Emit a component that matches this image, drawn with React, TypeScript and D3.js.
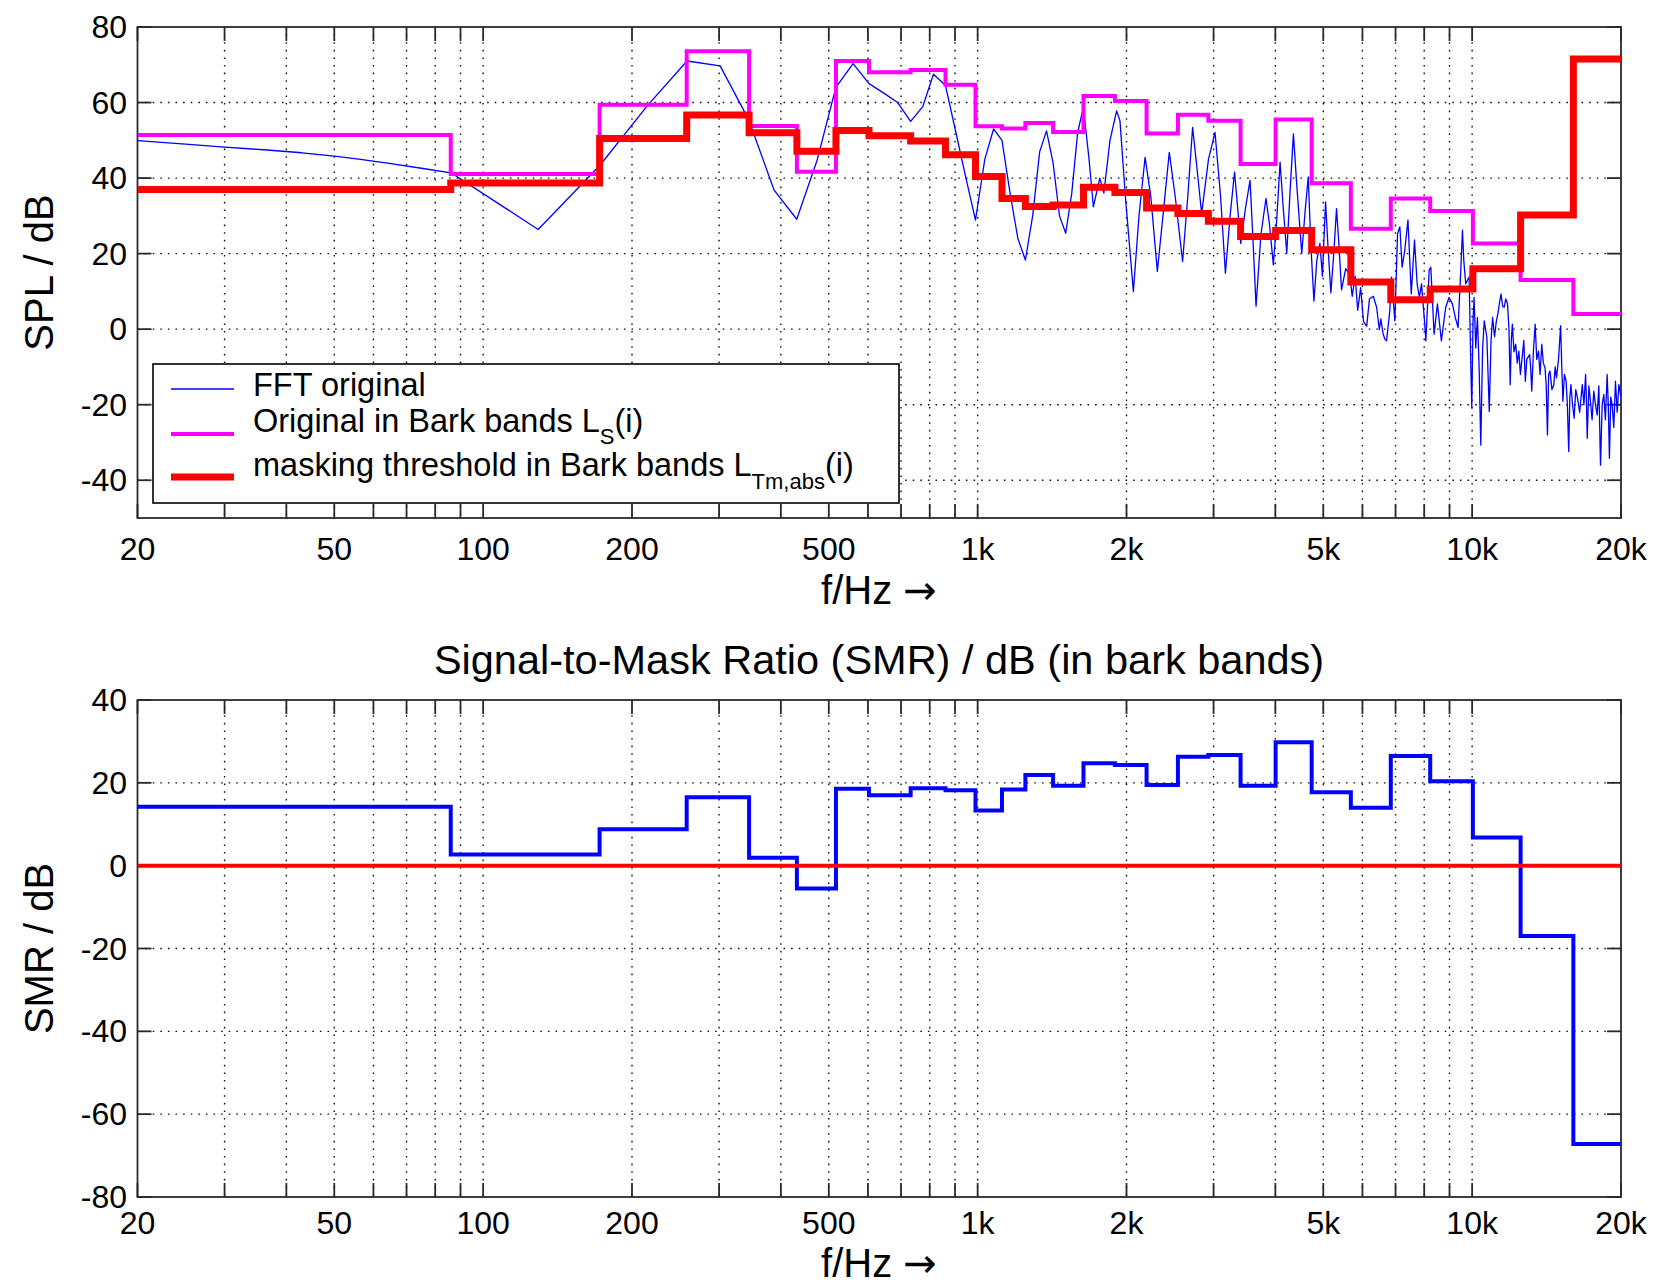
import React from "react";
import * as d3 from "d3";

// ---------------- data ----------------
const BAND_EDGES = [20, 86, 172, 258, 345, 431, 517, 603, 732, 861, 990, 1120, 1249, 1421, 1637, 1895, 2196, 2541, 2928, 3402, 4005, 4737, 5685, 6847, 8226, 10034, 12532, 16021, 20000];

// Original in Bark bands L_S(i)
const LS_DB = [51.4, 41.1, 59.4, 73.6, 53.8, 41.7, 71.0, 68.0, 68.6, 64.7, 53.7, 53.1, 54.6, 52.2, 61.7, 60.4, 51.8, 56.8, 55.2, 43.7, 55.5, 38.6, 26.6, 34.6, 31.3, 22.7, 13.0, 4.0];

// masking threshold in Bark bands L_Tm,abs(i)
const LT_DB = [37.0, 38.7, 50.5, 56.7, 52.0, 47.1, 52.6, 51.2, 49.8, 46.2, 40.4, 34.6, 32.5, 32.9, 37.6, 36.2, 32.1, 30.6, 28.6, 24.5, 26.1, 21.0, 12.5, 7.8, 10.6, 16.0, 30.2, 71.5];

// Signal-to-Mask Ratio per band
const SMR_DB = [14.2, 2.7, 8.8, 16.5, 1.9, -5.5, 18.6, 17.0, 18.7, 18.2, 13.3, 18.4, 21.9, 19.3, 24.7, 24.3, 19.5, 26.3, 26.7, 19.3, 29.8, 17.7, 14.0, 26.5, 20.4, 6.8, -17.0, -67.2];

// FFT original [Hz, dB]
const FFT_POINTS: [number, number][] = [
  [20, 49.9], [25, 49.0], [30, 48.2], [36, 47.5], [43, 46.7], [50, 45.8], [56, 45.0], [64.6, 43.9], [75, 42.6], [86.1, 41.4],
  [129.2, 26.4], [172.3, 43.4], [215.3, 59.3], [258.4, 71.0], [301.5, 69.7], [344.5, 55.4], [387.6, 36.8], [430.7, 29.1],
  [473.7, 44.8], [516.8, 64.0], [559.9, 70.3], [603, 65.0], [646, 62.5], [689, 60.0], [732, 55.0], [775, 59.0], [814, 67.5],
  [861, 64.5], [904, 52.0], [947, 40.0], [990, 28.9], [1034, 45.0], [1077, 53.0], [1120, 50.0], [1163, 36.0], [1206, 24.0],
  [1249, 18.3], [1292, 30.0], [1335, 47.0], [1378, 52.5], [1421, 44.0], [1464, 30.0], [1507, 25.4], [1550, 36.0], [1593, 52.0],
  [1636, 58.7], [1680, 45.0], [1714, 32.4], [1766, 40.0], [1800, 36.0], [1852, 50.0], [1910, 57.8], [1940, 55.2], [1990, 35.0],
  [2065, 10.0], [2120, 30.0], [2181, 45.5], [2240, 35.0], [2309, 15.3], [2370, 30.0], [2441, 46.8], [2510, 35.0], [2597, 17.9],
  [2660, 35.0], [2721, 53.4], [2780, 42.0], [2838, 30.6], [2930, 45.0], [3020, 52.1], [3100, 35.0], [3170, 14.8], [3240, 30.0],
  [3308, 41.6], [3404, 22.7], [3480, 32.0], [3555, 39.4], [3600, 25.0], [3656, 6.1], [3740, 25.0], [3829, 34.6], [3890, 28.0],
  [3963, 17.0], [4030, 30.0], [4089, 44.2], [4150, 32.0], [4218, 20.1], [4290, 38.0], [4351, 51.7], [4420, 38.0], [4523, 20.1],
  [4600, 32.0], [4662, 40.3], [4720, 22.0], [4787, 7.4], [4850, 18.0], [4922, 22.7], [4980, 14.0], [5053, 33.7], [5110, 22.0],
  [5180, 9.6], [5250, 20.0], [5318, 31.9], [5380, 22.0], [5443, 10.4], [5550, 16.0], [5659, 14.4], [5720, 8.7], [5800, 14.0],
  [5870, 5.0], [5950, 11.0], [6030, 2.0], [6120, 0.8], [6200, 8.0], [6311, 8.7], [6410, 5.8], [6490, -0.1], [6537, 2.7],
  [6600, -1.0], [6662, -2.7], [6713, -3.1], [6816, 4.9], [6868, 13.8], [6978, 2.2], [7066, 25.3], [7142, 27.1], [7218, 16.4],
  [7307, 20.9], [7417, 28.9], [7531, 9.3], [7647, 23.6], [7740, 12.0], [7822, 8.4], [7900, 12.0], [8001, 3.1], [8062, -3.1],
  [8186, 15.6], [8249, 16.4], [8377, -1.3], [8508, 6.7], [8666, -3.1], [8842, 5.8], [8980, 8.4], [9121, 6.7], [9250, 3.0],
  [9366, 0.4], [9480, 15.0], [9559, 26.2], [9620, 18.0], [9707, 12.0], [9860, 13.8], [9937, -9.3], [9984, -20.9], [10040, 2.0],
  [10090, 8.4], [10170, -5.0], [10250, 3.1], [10330, -10.0], [10410, -30.7], [10500, -5.0], [10580, 2.2], [10710, -2.2],
  [10830, -21.8], [10920, -3.0], [11000, 3.1], [11100, -2.0], [11190, 2.0], [11270, 4.0], [11360, 7.0], [11440, 9.3],
  [11530, 6.0], [11610, 5.8], [11700, 8.0], [11790, 6.7], [11870, 0.0], [11940, -14.7], [12000, -3.0], [12060, 1.3],
  [12150, -6.0], [12250, -4.0], [12340, -9.0], [12430, -5.8], [12520, -12.0], [12620, -7.6], [12720, -3.0], [12810, -13.8],
  [12900, -8.0], [13070, -6.7], [13130, -10.0], [13200, -16.4], [13300, -6.0], [13410, 1.3], [13510, -8.0], [13620, -5.8],
  [13720, -12.0], [13830, -4.0], [13930, -9.0], [14040, -10.2], [14120, -15.0], [14200, -28.0], [14280, -12.0], [14370, -11.1],
  [14500, -16.0], [14630, -14.7], [14720, -10.0], [14810, -12.9], [14950, -8.0], [15100, 0.9], [15180, -10.0], [15260, -19.1],
  [15370, -12.0], [15490, -13.8], [15580, -20.0], [15680, -32.4], [15760, -18.0], [15840, -14.7], [15960, -20.0], [16080, -23.6],
  [16200, -16.0], [16330, -18.2], [16500, -22.0], [16700, -14.7], [16830, -20.0], [16960, -12.0], [17020, -18.0], [17090, -28.9],
  [17220, -15.0], [17350, -19.1], [17480, -24.0], [17620, -16.4], [17760, -20.0], [17900, -22.7], [18040, -15.0], [18180, -36.0],
  [18320, -20.0], [18460, -17.3], [18600, -24.0], [18750, -12.0], [18850, -20.0], [18950, -34.2], [19070, -18.0], [19190, -20.0],
  [19340, -26.0], [19490, -13.8], [19650, -22.0], [19800, -14.7], [20000, -18.0],
];

const X_TICKS = [20, 30, 40, 50, 60, 70, 80, 90, 100, 200, 300, 400, 500, 600, 700, 800, 900, 1000, 2000, 3000, 4000, 5000, 6000, 7000, 8000, 9000, 10000, 20000];
const X_TICK_LABELS = [20, 50, 100, 200, 500, 1000, 2000, 5000, 10000, 20000];
const TOP_Y_TICKS = [-40, -20, 0, 20, 40, 60, 80];
const BOT_Y_TICKS = [-80, -60, -40, -20, 0, 20, 40];

// ---------------- layout ----------------
const FONT = "'Liberation Sans', Arial, Helvetica, sans-serif";
const ARROW_FONT = "'DejaVu Sans', sans-serif";
const X0 = 137.5;
const X1 = 1621;
const TICK_LEN = 14;
const AXIS_COLOR = "#2a2a2a";

const x = d3.scaleLog().domain([20, 20000]).range([X0, X1]);
const yTop = d3.scaleLinear().domain([-50, 80]).range([518, 27]);
const yBot = d3.scaleLinear().domain([-80, 40]).range([1197, 700]);

const fmtHz = (f: number) => (f >= 1000 ? `${f / 1000}k` : `${f}`);

function stepPoints(values: number[]): [number, number][] {
  const pts: [number, number][] = values.map((v, i) => [BAND_EDGES[i], v]);
  pts.push([BAND_EDGES[BAND_EDGES.length - 1], values[values.length - 1]]);
  return pts;
}

function Axes({ y, yTicks, labelY }: { y: d3.ScaleLinear<number, number>; yTicks: number[]; labelY: number }) {
  const [dMin, dMax] = y.domain();
  const top = y(dMax);
  const bottom = y(dMin);
  return (
    <g>
      <g stroke="#111" strokeWidth={1.4} strokeDasharray="1.6 6" fill="none">
        {X_TICKS.filter((f) => f !== 20 && f !== 20000).map((f) => (
          <line key={"gx" + f} x1={x(f)} x2={x(f)} y1={top} y2={bottom} />
        ))}
        {yTicks.filter((v) => v !== dMin && v !== dMax).map((v) => (
          <line key={"gy" + v} x1={X0} x2={X1} y1={y(v)} y2={y(v)} />
        ))}
      </g>
      <g stroke={AXIS_COLOR} strokeWidth={1.8}>
        {X_TICKS.map((f) => (
          <g key={"tx" + f}>
            <line x1={x(f)} x2={x(f)} y1={bottom} y2={bottom - TICK_LEN} />
            <line x1={x(f)} x2={x(f)} y1={top} y2={top + TICK_LEN} />
          </g>
        ))}
        {yTicks.map((v) => (
          <g key={"ty" + v}>
            <line x1={X0} x2={X0 + TICK_LEN} y1={y(v)} y2={y(v)} />
            <line x1={X1} x2={X1 - TICK_LEN} y1={y(v)} y2={y(v)} />
          </g>
        ))}
      </g>
      <rect x={X0} y={top} width={X1 - X0} height={bottom - top} fill="none" stroke={AXIS_COLOR} strokeWidth={1.8} />
      <g fontFamily={FONT} fontSize={32} fill="#000">
        {X_TICK_LABELS.map((f) => (
          <text key={"lx" + f} x={x(f)} y={labelY} textAnchor="middle">
            {fmtHz(f)}
          </text>
        ))}
        {yTicks.map((v) => (
          <text key={"ly" + v} x={127} y={y(v) + 11} textAnchor="end">
            {v}
          </text>
        ))}
      </g>
    </g>
  );
}

function XLabel({ y }: { y: number }) {
  return (
    <text x={879} y={y} textAnchor="middle" fontFamily={FONT} fontSize={40} fill="#000">
      f/Hz{" "}
      <tspan fontFamily={ARROW_FONT} fontSize={40}>
        →
      </tspan>
    </text>
  );
}

export default function App() {
  const lineTop = d3
    .line<[number, number]>()
    .x((d) => x(d[0]))
    .y((d) => yTop(d[1]));
  const stepTop = d3
    .line<[number, number]>()
    .x((d) => x(d[0]))
    .y((d) => yTop(d[1]))
    .curve(d3.curveStepAfter);
  const stepBot = d3
    .line<[number, number]>()
    .x((d) => x(d[0]))
    .y((d) => yBot(d[1]))
    .curve(d3.curveStepAfter);

  const zeroLine = d3
    .line<[number, number]>()
    .x((d) => x(d[0]))
    .y((d) => yBot(d[1]))([
    [20, 0],
    [20000, 0],
  ]);

  return (
    <svg
      width={1656}
      height={1288}
      viewBox="0 0 1656 1288"
      style={{ position: "absolute", left: 0, top: 0, background: "#fff" }}
    >
      <rect x={0} y={0} width={1656} height={1288} fill="#fff" />
      <defs>
        <clipPath id="clipTop">
          <rect x={X0} y={yTop(80)} width={X1 - X0} height={yTop(-50) - yTop(80)} />
        </clipPath>
        <clipPath id="clipBot">
          <rect x={X0} y={yBot(40)} width={X1 - X0} height={yBot(-80) - yBot(40)} />
        </clipPath>
      </defs>

      {/* ---------- top panel ---------- */}
      <Axes y={yTop} yTicks={TOP_Y_TICKS} labelY={560} />
      <g clipPath="url(#clipTop)" fill="none" strokeLinejoin="miter">
        <path d={lineTop(FFT_POINTS) || ""} stroke="#0000ff" strokeWidth={1.3} strokeLinejoin="round" />
        <path d={stepTop(stepPoints(LS_DB)) || ""} stroke="#ff00ff" strokeWidth={4} />
        <path d={stepTop(stepPoints(LT_DB)) || ""} stroke="#ff0000" strokeWidth={7} />
      </g>

      {/* legend */}
      <g>
        <rect x={153} y={364} width={746} height={139} fill="#fff" stroke="#000" strokeWidth={1.6} />
        <line x1={171} x2={234} y1={389} y2={389} stroke="#0000ff" strokeWidth={1.3} />
        <line x1={171} x2={234} y1={434} y2={434} stroke="#ff00ff" strokeWidth={4} />
        <line x1={171} x2={234} y1={477} y2={477} stroke="#ff0000" strokeWidth={7} />
        <g fontFamily={FONT} fontSize={32.5} fill="#000">
          <text x={253} y={396}>FFT original</text>
          <text x={253} y={432}>
            Original in Bark bands L
            <tspan dy={12} fontSize={22}>S</tspan>
            <tspan dy={-12}>(i)</tspan>
          </text>
          <text x={253} y={476}>
            masking threshold in Bark bands L
            <tspan dy={13} fontSize={22}>Tm,abs</tspan>
            <tspan dy={-13}>(i)</tspan>
          </text>
        </g>
      </g>

      <XLabel y={604} />
      <text
        transform={`translate(53, ${(27 + 518) / 2}) rotate(-90)`}
        textAnchor="middle"
        fontFamily={FONT}
        fontSize={40}
        fill="#000"
      >
        SPL / dB
      </text>

      {/* ---------- bottom panel ---------- */}
      <text x={879} y={674} textAnchor="middle" fontFamily={FONT} fontSize={41.5} fill="#000">
        Signal-to-Mask Ratio (SMR) / dB (in bark bands)
      </text>
      <Axes y={yBot} yTicks={BOT_Y_TICKS} labelY={1234} />
      <g clipPath="url(#clipBot)" fill="none">
        <path d={stepBot(stepPoints(SMR_DB)) || ""} stroke="#0000ff" strokeWidth={4} />
        <path d={zeroLine || ""} stroke="#ff0000" strokeWidth={4} />
      </g>
      <XLabel y={1277} />
      <text
        transform={`translate(53, ${(700 + 1197) / 2}) rotate(-90)`}
        textAnchor="middle"
        fontFamily={FONT}
        fontSize={40}
        fill="#000"
      >
        SMR / dB
      </text>
    </svg>
  );
}
